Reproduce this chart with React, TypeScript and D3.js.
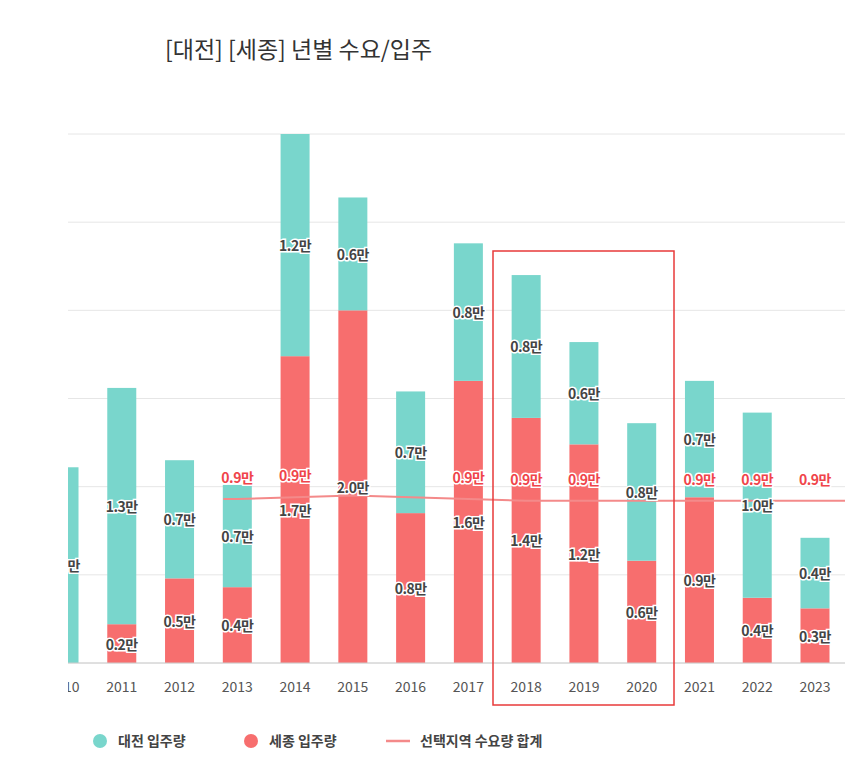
import * as d3 from 'd3';
import React from 'react';

const years = ['2010','2011','2012','2013','2014','2015','2016','2017','2018','2019','2020','2021','2022','2023'];
const sejong = [0, 0.22, 0.48, 0.43, 1.74, 2.0, 0.85, 1.6, 1.39, 1.24, 0.58, 0.94, 0.37, 0.31];
const daejeon = [1.11, 1.34, 0.67, 0.58, 1.26, 0.64, 0.69, 0.78, 0.81, 0.58, 0.78, 0.66, 1.05, 0.4];
const sejongLabels = ['', '0.2만', '0.5만', '0.4만', '1.7만', '2.0만', '0.8만', '1.6만', '1.4만', '1.2만', '0.6만', '0.9만', '0.4만', '0.3만'];
const daejeonLabels = ['1.1만', '1.3만', '0.7만', '0.7만', '1.2만', '0.6만', '0.7만', '0.8만', '0.8만', '0.6만', '0.8만', '0.7만', '1.0만', '0.4만'];
const demand: (number | null)[] = [null, null, null, 0.93, 0.94, 0.95, 0.94, 0.93, 0.92, 0.92, 0.92, 0.92, 0.92, 0.92];
const demandLabelShown = [false, false, false, true, true, false, false, true, true, true, false, true, true, true];
const yTicks = [0, 0.5, 1, 1.5, 2, 2.5, 3];

const TEAL = '#79d6cc';
const RED = '#f76e6e';
const FONT = '"Noto Sans CJK KR", "Noto Sans", sans-serif';

export default function App() {
  const W = 859, H = 763;
  const left = 68, right = 845;
  const x = d3.scaleLinear().domain([0, 13]).range([64, 815]);
  const y = d3.scaleLinear().domain([0, 3]).range([663, 134]);
  const bw = 29;
  const line = d3.line<[number, number]>().x(d => d[0]).y(d => d[1]);
  const pts: [number, number][] = [];
  demand.forEach((v, i) => { if (v != null) pts.push([x(i), y(v)]); });
  pts.unshift([x(3) - 14, pts[0][1]]);
  pts.push([right, pts[pts.length - 1][1]]);
  const label = (tx: number, ty: number, t: string, color: string, key: string) => (
    <text key={key} x={tx} y={ty} textAnchor="middle" dominantBaseline="central" fontSize={14} fontWeight={700}
      fill={color} stroke="#fff" strokeWidth={3} paintOrder="stroke" letterSpacing={-0.5}>{t}</text>
  );
  return (
    <svg width={W} height={H} style={{ position: 'absolute', left: 0, top: 0, fontFamily: FONT }}>
      <rect width={W} height={H} fill="#fff" />
      <text x={165} y={58} fontSize={23} fill="#333">[대전] [세종] 년별 수요/입주</text>
      <defs><clipPath id="plot"><rect x={left} y={0} width={right - left} height={H} /></clipPath></defs>
      {yTicks.map(t => (
        <line key={t} x1={left} x2={right} y1={y(t)} y2={y(t)} stroke="#e6e6e6" />
      ))}
      <g clipPath="url(#plot)">
        {years.map((yr, i) => (
          <g key={yr}>
            <rect x={x(i) - bw / 2} y={y(sejong[i])} width={bw} height={y(0) - y(sejong[i])} fill={RED} />
            <rect x={x(i) - bw / 2} y={y(sejong[i] + daejeon[i])} width={bw} height={y(0) - y(daejeon[i])} fill={TEAL} />
          </g>
        ))}
        <path d={line(pts) || ''} fill="none" stroke="#f48a8a" strokeWidth={2} />
        {years.map((yr, i) => (
          <g key={'l' + yr}>
            {sejong[i] > 0 && label(x(i), (y(0) + y(sejong[i])) / 2, sejongLabels[i], '#444', 's')}
            {label(x(i), (y(sejong[i]) + y(sejong[i] + daejeon[i])) / 2, daejeonLabels[i], '#444', 'd')}
            {demandLabelShown[i] && demand[i] != null && label(x(i), y(demand[i]!) - 22, '0.9만', '#f0444a', 'm')}
          </g>
        ))}
        {years.map((yr, i) => (
          <text key={'t' + yr} x={x(i)} y={692} textAnchor="middle" fontSize={14} fill="#555">{yr}</text>
        ))}
      </g>
      <line x1={left} x2={right} y1={y(0)} y2={y(0)} stroke="#ccc" />
      <rect x={493} y={251} width={181} height={454} fill="none" stroke="#e83a3a" strokeWidth={1.5} />
      <g fontSize={14} fontWeight={700} fill="#444">
        <circle cx={100} cy={741} r={7} fill={TEAL} />
        <text x={118} y={746}>대전 입주량</text>
        <circle cx={251} cy={741} r={7} fill={RED} />
        <text x={269} y={746}>세종 입주량</text>
        <line x1={386} x2={410} y1={741} y2={741} stroke="#f48a8a" strokeWidth={2.5} />
        <text x={420} y={746}>선택지역 수요량 합계</text>
      </g>
    </svg>
  );
}
